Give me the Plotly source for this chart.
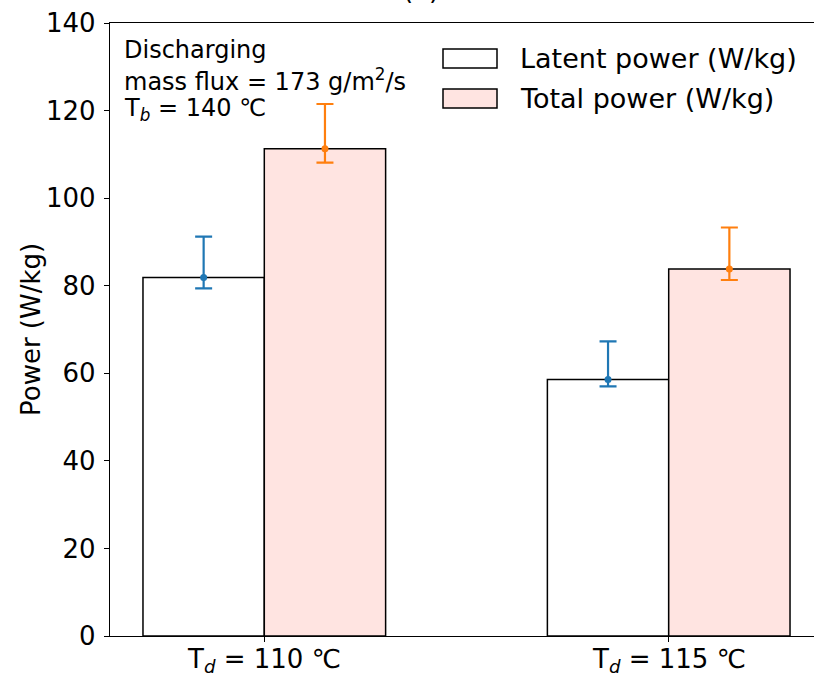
import plotly.graph_objects as go

# ---- data -------------------------------------------------------------
categories = ["T<sub><i>d</i></sub> = 110 ℃", "T<sub><i>d</i></sub> = 115 ℃"]
positions = [0, 1]

latent_power = [81.9, 58.6]
latent_err_plus = [9.3, 8.7]
latent_err_minus = [2.5, 1.6]

total_power = [111.3, 83.8]
total_err_plus = [10.2, 9.5]
total_err_minus = [3.2, 2.5]

y_ticks = [0, 20, 40, 60, 80, 100, 120, 140]
series_names = ["Latent power (W/kg)", "Total power (W/kg)"]
info_lines = [
    "Discharging",
    "mass flux = 173 g/m<sup>2</sup>/s",
    "T<sub><i>b</i></sub> = 140 ℃",
]

# ---- styling ----------------------------------------------------------
W, H = 814, 677
ML, MR, MT, MB = 110, 0, 23, 41
FONT = "DejaVu Sans"
BAR_W = 0.3
LATENT_FILL = "white"
TOTAL_FILL = "#FFE4E1"
BLUE = "#1f77b4"
ORANGE = "#ff7f0e"

plot_w = W - ML - MR
plot_h = H - MT - MB


def px_x(px):
    return (px - ML) / plot_w


def px_y(py):
    return 1 - (py - MT) / plot_h


fig = go.Figure()

fig.add_trace(go.Bar(
    x=positions, y=latent_power, offset=-BAR_W, width=BAR_W,
    marker=dict(color=LATENT_FILL, line=dict(color="black", width=1.5)),
    name=series_names[0], showlegend=False,
))
fig.add_trace(go.Bar(
    x=positions, y=total_power, offset=0, width=BAR_W,
    marker=dict(color=TOTAL_FILL, line=dict(color="black", width=1.5)),
    name=series_names[1], showlegend=False,
))

# error bars with centre markers
fig.add_trace(go.Scatter(
    x=[p - BAR_W / 2 for p in positions], y=latent_power, mode="markers",
    marker=dict(color=BLUE, size=7),
    error_y=dict(type="data", symmetric=False, array=latent_err_plus,
                 arrayminus=latent_err_minus, color=BLUE, thickness=2.2, width=8.5),
    showlegend=False,
))
fig.add_trace(go.Scatter(
    x=[p + BAR_W / 2 for p in positions], y=total_power, mode="markers",
    marker=dict(color=ORANGE, size=7),
    error_y=dict(type="data", symmetric=False, array=total_err_plus,
                 arrayminus=total_err_minus, color=ORANGE, thickness=2.2, width=8.5),
    showlegend=False,
))

# axis range: ticks at 264.3 px and 668.7 px
unit = 404.4
x_lo = -(264.3 - ML) / unit
x_hi = x_lo + plot_w / unit

annotations = []

# category labels under the x ticks
for pos, label in zip(positions, categories):
    annotations.append(dict(
        text=label, xref="x", yref="paper", x=pos, y=px_y(660.5),
        xanchor="center", yanchor="middle", showarrow=False,
        font=dict(family=FONT, size=26, color="black"),
    ))

# info text block
for line, yc in zip(info_lines, [50, 80, 109]):
    annotations.append(dict(
        text=line, xref="paper", yref="paper", x=px_x(122), y=px_y(yc),
        xanchor="left", yanchor="middle", showarrow=False,
        font=dict(family=FONT, size=24, color="black"),
    ))

# y-axis label
annotations.append(dict(
    text="Power (W/kg)", xref="paper", yref="paper", x=px_x(31), y=px_y(330),
    xanchor="center", yanchor="middle", textangle=-90, showarrow=False,
    font=dict(family=FONT, size=26, color="black"),
))

# panel title (sits mostly above the page)
annotations.append(dict(
    text="(a)", xref="paper", yref="paper", x=px_x(421), y=px_y(-10),
    xanchor="center", yanchor="middle", showarrow=False,
    font=dict(family=FONT, size=26, color="black"),
))

# legend
shapes = []
legend_rows = [(58.5, LATENT_FILL), (98.5, TOTAL_FILL)]
for name, (yc, fill) in zip(series_names, legend_rows):
    shapes.append(dict(
        type="rect", xref="paper", yref="paper",
        x0=px_x(443), x1=px_x(497), y0=px_y(yc - 9.5), y1=px_y(yc + 9.5),
        fillcolor=fill, line=dict(color="black", width=1.5),
    ))
    annotations.append(dict(
        text=name, xref="paper", yref="paper", x=px_x(518), y=px_y(yc),
        xanchor="left", yanchor="middle", showarrow=False,
        font=dict(family=FONT, size=27, color="black"),
    ))

fig.update_layout(
    width=W, height=H,
    margin=dict(l=ML, r=MR, t=MT, b=MB, pad=0, autoexpand=False),
    paper_bgcolor="white", plot_bgcolor="white",
    font=dict(family=FONT, color="black"),
    showlegend=False,
    xaxis=dict(
        range=[x_lo, x_hi], tickvals=positions, showticklabels=False,
        showline=True, linecolor="black", linewidth=1.3, mirror=True,
        ticks="outside", ticklen=5, tickwidth=1.3, tickcolor="black",
        showgrid=False, zeroline=False, automargin=False,
    ),
    yaxis=dict(
        range=[0, 140], tickvals=y_ticks,
        showline=True, linecolor="black", linewidth=1.3, mirror=False,
        ticks="outside", ticklen=5, tickwidth=1.3, tickcolor="black",
        tickfont=dict(family=FONT, size=26, color="black"),
        ticklabelstandoff=3,
        showgrid=False, zeroline=False, automargin=False,
    ),
    annotations=annotations,
    shapes=shapes,
)

fig.write_html("out.html")
